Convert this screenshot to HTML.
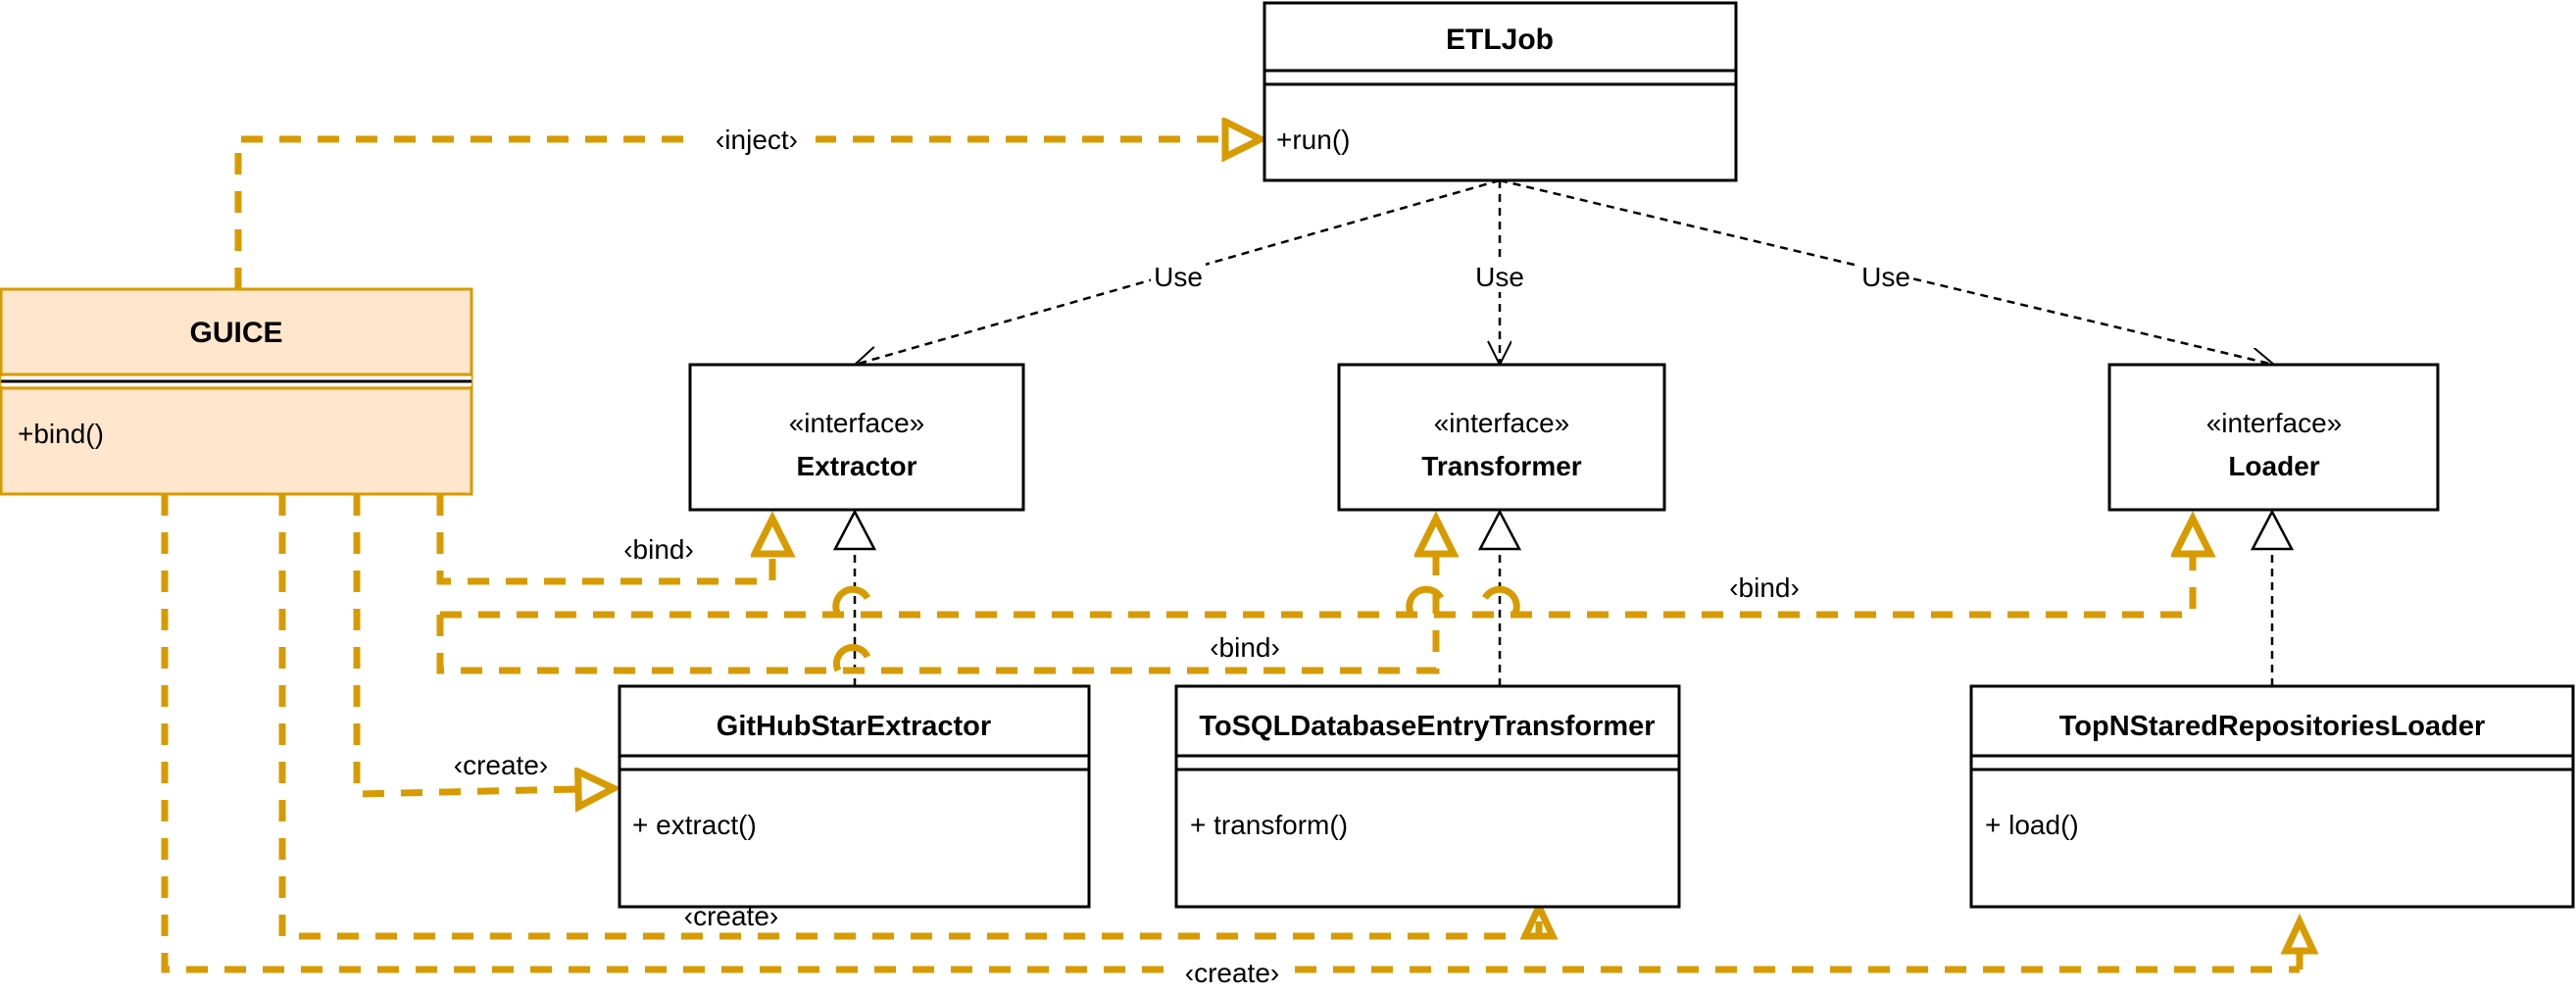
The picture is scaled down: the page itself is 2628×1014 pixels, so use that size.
<!DOCTYPE html>
<html><head><meta charset="utf-8"><style>
html,body{margin:0;padding:0;background:#fff;}
svg{display:block;}
text{font-family:"Liberation Sans",sans-serif;fill:#000;}
</style></head><body>
<svg width="2628" height="1014" viewBox="0 0 2628 1014" xmlns="http://www.w3.org/2000/svg">
<defs>
<marker id="open" markerWidth="30" markerHeight="30" refX="26" refY="12" orient="auto" markerUnits="userSpaceOnUse">
<path d="M2,0 L26,12 L2,24" fill="none" stroke="#000" stroke-width="2"/>
</marker>
<marker id="tri" markerWidth="60" markerHeight="60" refX="4" refY="22" orient="auto" markerUnits="userSpaceOnUse">
<path d="M4,4 L40,22 L4,40 Z" fill="none" stroke="#d79b00" stroke-width="7"/>
</marker>
</defs>

<g stroke="#000" stroke-width="2.5" stroke-dasharray="8 6" fill="none">
<path d="M1530,184 L872,372" marker-end="url(#open)"/>
<path d="M1530,184 L1530,372" marker-end="url(#open)"/>
<path d="M1530,184 L2320,372" marker-end="url(#open)"/>
<path d="M872,700 L872,560"/>
<path d="M1530,700 L1530,560"/>
<path d="M2318,700 L2318,560"/>
</g>
<g fill="#fff" stroke="#000" stroke-width="2.5">
<path d="M872,522 L852,560 L892,560 Z"/>
<path d="M1530,522 L1510,560 L1550,560 Z"/>
<path d="M2318,522 L2298,560 L2338,560 Z"/>
</g>
<g font-size="28" text-anchor="middle">
<rect x="1174" y="264" width="56" height="34" fill="#fff"/><text x="1202" y="292">Use</text>
<rect x="1502" y="264" width="56" height="34" fill="#fff"/><text x="1530" y="292">Use</text>
<rect x="1896" y="264" width="56" height="34" fill="#fff"/><text x="1924" y="292">Use</text>
</g>

<g stroke="#d79b00" stroke-width="7" stroke-dasharray="22 17" fill="none">
<path d="M243,295 L243,142 L1250,142" marker-end="url(#tri)"/>
<path d="M449,504 L449,593 L788,593 L788,565" marker-end="url(#tri)"/>
<path d="M449,627 L449,684 L1465,684 L1465,565" marker-end="url(#tri)"/>
<path d="M449,627 L2237,627 L2237,565" marker-end="url(#tri)"/>
<path d="M364,504 L364,810 L590,805" marker-end="url(#tri)"/>
<path d="M288,504 L288,955 L1570,955" />
<path d="M168,504 L168,989 L2346,989"/>
</g>
<g fill="none" stroke="#d79b00" stroke-width="7">
<path d="M1570,955 L1570,940"/>
<path d="M1556,955 L1570,925 L1584,955 Z"/>
<path d="M2346,989 L2346,970"/>
<path d="M2332,970 L2346,940 L2360,970 Z"/>
<path d="M1440,627 A15,15 0 0 1 1470,610"/>
<path d="M1545,627 A15,15 0 0 0 1515,610"/>
<path d="M855,627 A15,15 0 0 1 885,610"/>
<path d="M855,684 A15,15 0 0 1 885,670"/>
</g>
<g font-size="28" text-anchor="middle">
<rect x="712" y="124" width="120" height="36" fill="#fff"/><text x="772" y="152">‹inject›</text>
<text x="672" y="570">‹bind›</text>
<text x="1270" y="670">‹bind›</text>
<text x="1800" y="609">‹bind›</text>
<text x="511" y="790">‹create›</text>
<rect x="684" y="916" width="124" height="32" fill="#fff"/><text x="746" y="944">‹create›</text>
<rect x="1195" y="974" width="124" height="36" fill="#fff"/><text x="1257" y="1002">‹create›</text>
</g>

<g stroke="#000" stroke-width="3" fill="#fff">
<rect x="1290" y="3" width="481" height="181"/>
<line x1="1290" y1="72" x2="1771" y2="72"/><line x1="1290" y1="86" x2="1771" y2="86"/>
</g>
<text x="1530" y="50" font-size="30" font-weight="bold" text-anchor="middle">ETLJob</text>
<text x="1302" y="152" font-size="28">+run()</text>

<g stroke="#d79b00" stroke-width="3" fill="#ffe6cc">
<rect x="1" y="295" width="480" height="209"/>
<line x1="1" y1="382" x2="481" y2="382"/><line x1="1" y1="396" x2="481" y2="396"/>
</g>
<rect x="1" y="384" width="480" height="10" fill="#fff"/>
<line x1="1" y1="389" x2="481" y2="389" stroke="#000" stroke-width="3"/>
<text x="241" y="349" font-size="30" font-weight="bold" text-anchor="middle">GUICE</text>
<text x="18" y="452" font-size="28">+bind()</text>

<g stroke="#000" stroke-width="3" fill="#fff">
<rect x="704" y="372" width="340" height="148"/>
<rect x="1366" y="372" width="332" height="148"/>
<rect x="2152" y="372" width="335" height="148"/>
</g>
<g font-size="28" text-anchor="middle">
<text x="874" y="441">«interface»</text><text x="874" y="485" font-weight="bold">Extractor</text>
<text x="1532" y="441">«interface»</text><text x="1532" y="485" font-weight="bold">Transformer</text>
<text x="2320" y="441">«interface»</text><text x="2320" y="485" font-weight="bold">Loader</text>
</g>

<g stroke="#000" stroke-width="3" fill="#fff">
<rect x="632" y="700" width="479" height="225"/>
<line x1="632" y1="771" x2="1111" y2="771"/><line x1="632" y1="785" x2="1111" y2="785"/>
<rect x="1200" y="700" width="513" height="225"/>
<line x1="1200" y1="771" x2="1713" y2="771"/><line x1="1200" y1="785" x2="1713" y2="785"/>
<rect x="2011" y="700" width="614" height="225"/>
<line x1="2011" y1="771" x2="2625" y2="771"/><line x1="2011" y1="785" x2="2625" y2="785"/>
</g>
<g font-size="29" font-weight="bold" text-anchor="middle">
<text x="871" y="750">GitHubStarExtractor</text>
<text x="1456" y="750">ToSQLDatabaseEntryTransformer</text>
<text x="2318" y="750">TopNStaredRepositoriesLoader</text>
</g>
<g font-size="28">
<text x="645" y="851">+ extract()</text>
<text x="1214" y="851">+ transform()</text>
<text x="2025" y="851">+ load()</text>
</g>
</svg>
</body></html>
